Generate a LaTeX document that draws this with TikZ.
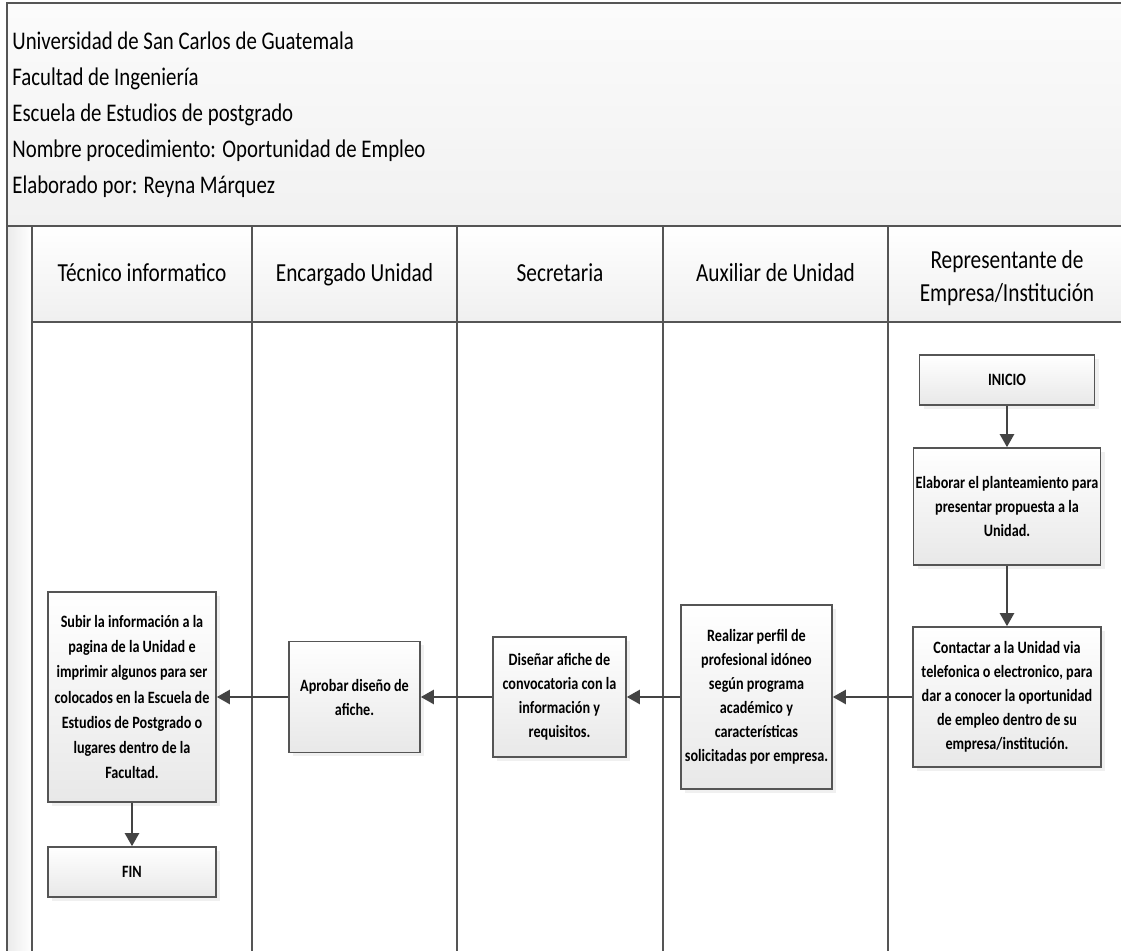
\documentclass[tikz,border=0pt]{standalone}
\usepackage{fontspec}
\setmainfont{Carlito}[FakeStretch=0.82]
\usetikzlibrary{arrows.meta,shadows}
\definecolor{framec}{HTML}{555555}
\definecolor{arrowc}{HTML}{444444}
\begin{document}
\begin{tikzpicture}[x=0.5pt,y=-0.5pt,
  box/.style={draw=framec, line width=0.8pt, top color=white, bottom color=gray!18,
    align=center, font=\fontsize{8.65pt}{12pt}\selectfont\bfseries, inner sep=0pt,
    drop shadow={shadow xshift=2pt, shadow yshift=-2pt, opacity=0.12}},
  arr/.style={draw=arrowc, line width=1.2pt, -{Triangle[length=6.5pt,width=7pt]}},
  lane/.style={draw=framec, line width=1pt},
  head/.style={font=\fontsize{13pt}{16.5pt}\selectfont, align=center, inner sep=0pt},
  ttl/.style={font=\fontsize{12.7pt}{15pt}\selectfont, anchor=base west, inner sep=0pt}]
\useasboundingbox (0,0) rectangle (1121,951);
\begin{scope}
\clip (0,0) rectangle (1121,951);
\path[top color=gray!3, bottom color=gray!11] (7,3) rectangle (1126,226);
\path[top color=white, bottom color=gray!12] (32,226) rectangle (1126,322);
\path[left color=gray!16, right color=white] (7,226) rectangle (32,960);
\draw[lane, line width=1.2pt] (7,3) rectangle (1126,960);
\draw[lane] (7,226) -- (1126,226);
\draw[lane] (32,322) -- (1126,322);
\foreach \x in {32,252,457,663,888} \draw[lane] (\x,226) -- (\x,960);
\end{scope}
% title
\node[ttl] (t1) at (12,50) {Universidad de San Carlos de Guatemala};
\node[ttl] (t2) at (12,86) {Facultad de Ingeniería};
\node[ttl] (t3) at (12,122) {Escuela de Estudios de postgrado};
\node[ttl] (t4) at (12,158) {Nombre procedimiento: Oportunidad de Empleo};
\node[ttl] (t5) at (12,194) {Elaborado por: Reyna Márquez};
% headers
\node[head, anchor=base] (h1) at (142,282) {Técnico informatico};
\node[head, anchor=base] (h2) at (354.5,282) {Encargado Unidad};
\node[head, anchor=base] (h3) at (560,282) {Secretaria};
\node[head, anchor=base] (h4) at (775.5,282) {Auxiliar de Unidad};
\node[head] (h5) at (1007,278) {Representante de\\Empresa/Institución};
% boxes
\node[box, minimum width=87.5pt, minimum height=25pt] (inicio) at (1007,380) {INICIO};
\node[box, minimum width=93.5pt, minimum height=58.5pt] (elab) at (1007,506.5)
  {Elaborar el planteamiento para\\presentar propuesta a la\\Unidad.};
\node[box, minimum width=94pt, minimum height=70pt] (cont) at (1007,697)
  {Contactar a la Unidad via\\telefonica o electronico, para\\dar a conocer la oportunidad\\de empleo dentro de su\\empresa/institución.};
\node[box, minimum width=75.5pt, minimum height=92pt] (real) at (756.5,697)
  {Realizar perfil de\\profesional idóneo\\según programa\\académico y\\características\\solicitadas por empresa.};
\node[box, minimum width=66.5pt, minimum height=60pt] (dise) at (559.5,697)
  {Diseñar afiche de\\convocatoria con la\\información y\\requisitos.};
\node[box, minimum width=65.5pt, minimum height=55.5pt] (apro) at (354.5,697)
  {Aprobar diseño de\\afiche.};
\node[box, minimum width=84pt, minimum height=105pt, font=\fontsize{8.65pt}{12.6pt}\selectfont\bfseries] (subir) at (132,697)
  {Subir la información a la\\pagina de la Unidad e\\imprimir algunos para ser\\colocados en la Escuela de\\Estudios de Postgrado o\\lugares dentro de la\\Facultad.};
\node[box, minimum width=84pt, minimum height=25pt] (fin) at (132,872) {FIN};
% arrows
\draw[arr] (inicio) -- (elab);
\draw[arr] (elab) -- (cont);
\draw[arr] (cont) -- (real);
\draw[arr] (real) -- (dise);
\draw[arr] (dise) -- (apro);
\draw[arr] (apro) -- (subir);
\draw[arr] (subir) -- (fin);
\end{tikzpicture}
\end{document}
